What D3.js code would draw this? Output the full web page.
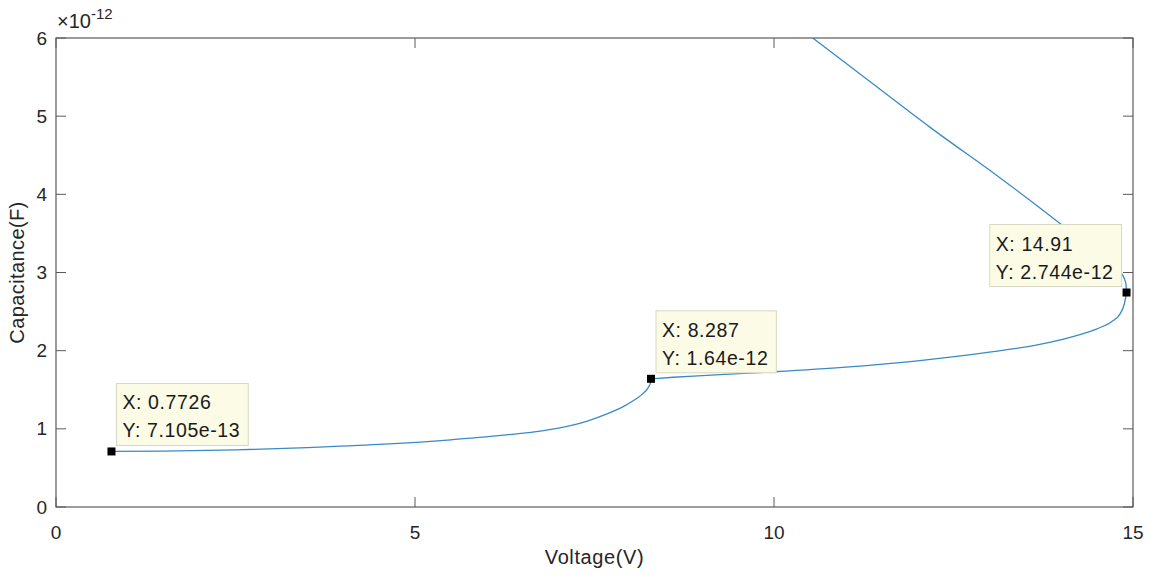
<!DOCTYPE html>
<html>
<head>
<meta charset="utf-8">
<script src="https://cdn.jsdelivr.net/npm/d3@7"></script>
<style>
  body { margin: 0; background: #fff; }
  svg { display: block; font-family: "Liberation Sans", Arial, sans-serif; }
</style>
</head>
<body>
<svg id="chart" width="1151" height="575"></svg>
<script>
// C-V sweep (x in V, y in pF)
var lowerV = [0.7726, 1.5, 2.5, 3.5, 4.5, 5.5, 6.3, 7.0, 7.4, 7.7, 7.9, 8.05, 8.17, 8.25, 8.28, 8.287];
var lowerC = [0.7105, 0.715, 0.73, 0.76, 0.80, 0.86, 0.925, 1.01, 1.1, 1.2, 1.285, 1.365, 1.447, 1.53, 1.59, 1.64];
var midV = [8.287, 8.6, 9.0, 10.0, 11.0, 12.0, 13.0, 13.7, 14.2, 14.5, 14.7, 14.82, 14.88, 14.91];
var midC = [1.64, 1.66, 1.68, 1.73, 1.79, 1.87, 1.98, 2.08, 2.19, 2.28, 2.37, 2.47, 2.6, 2.744];
var upperV = [14.91, 14.9, 14.86, 14.76, 14.56, 14.3, 14.05, 13.6, 13.15, 12.17, 11.34, 10.54];
var upperC = [2.744, 2.86, 2.96, 3.07, 3.22, 3.4, 3.58, 3.9, 4.21, 4.86, 5.44, 6.0];

// data tips
var tipX = [0.7726, 8.287, 14.91];
var tipY = [0.7105, 1.64, 2.744];
var tipLines = [["X: 0.7726", "Y: 7.105e-13"], ["X: 8.287", "Y: 1.64e-12"], ["X: 14.91", "Y: 2.744e-12"]];
var tipSide = ["right", "right", "left"];

var xTicks = [0, 5, 10, 15];
var yTicks = [0, 1, 2, 3, 4, 5, 6];

margin = {left: 56, right: 18, top: 38, bottom: 68};
width = 1151 - margin.left - margin.right;
height = 575 - margin.top - margin.bottom;

svg = d3.select("#chart");
g = svg.append("g").attr("transform", "translate(" + margin.left + "," + margin.top + ")");

x = d3.scaleLinear().domain([0, 15]).range([0, width]);
y = d3.scaleLinear().domain([0, 6]).range([height, 0]);

var axisColor = "#5a5a5a";
var textColor = "#262626";
var lineColor = "#3a8ac4";
var tickLen = 10;

g.append("clipPath").attr("id", "clip")
    .append("rect").attr("width", width).attr("height", height);

// curve: three branches, joined at the turning points
function zipPts(vs, cs) { return vs.map(function(v, i) { return [v, cs[i]]; }); }

lineX = d3.line()
    .x(function(d) { return x(d[0]); })
    .y(function(d) { return y(d[1]); })
    .curve(d3.curveMonotoneX);
lineY = d3.line()
    .x(function(d) { return x(d[0]); })
    .y(function(d) { return y(d[1]); })
    .curve(d3.curveMonotoneY);

[[zipPts(lowerV, lowerC), lineX], [zipPts(midV, midC), lineX], [zipPts(upperV, upperC), lineY]]
    .forEach(function(b) {
        g.append("path")
            .datum(b[0])
            .attr("clip-path", "url(#clip)")
            .attr("d", b[1])
            .attr("fill", "none")
            .attr("stroke", lineColor)
            .attr("stroke-width", 1.3);
    });

// box + mirrored ticks
g.append("rect").attr("width", width).attr("height", height)
    .attr("fill", "none").attr("stroke", axisColor).attr("stroke-width", 1.2);

xTicks.forEach(function(t) {
    g.append("line").attr("x1", x(t)).attr("x2", x(t)).attr("y1", height).attr("y2", height - tickLen)
        .attr("stroke", axisColor);
    g.append("line").attr("x1", x(t)).attr("x2", x(t)).attr("y1", 0).attr("y2", tickLen)
        .attr("stroke", axisColor);
    g.append("text").attr("x", x(t)).attr("y", height + 32)
        .attr("text-anchor", "middle").attr("font-size", 19).attr("fill", textColor).text(t);
});
yTicks.forEach(function(t) {
    g.append("line").attr("x1", 0).attr("x2", tickLen).attr("y1", y(t)).attr("y2", y(t))
        .attr("stroke", axisColor);
    g.append("line").attr("x1", width).attr("x2", width - tickLen).attr("y1", y(t)).attr("y2", y(t))
        .attr("stroke", axisColor);
    g.append("text").attr("x", -9).attr("y", y(t)).attr("dy", "0.35em")
        .attr("text-anchor", "end").attr("font-size", 19).attr("fill", textColor).text(t);
});

// exponent
ex = g.append("text").attr("x", 1).attr("y", -10).attr("font-size", 20).attr("fill", textColor);
ex.append("tspan").text("\u00d710");
ex.append("tspan").attr("font-size", 15).attr("dy", -9).text("-12");

// axis labels
g.append("text").attr("x", width / 2).attr("y", height + 57)
    .attr("text-anchor", "middle").attr("font-size", 20).attr("letter-spacing", 0.6)
    .attr("fill", textColor).text("Voltage(V)");
g.append("text").attr("transform", "translate(" + (-32) + "," + (height / 2) + ") rotate(-90)")
    .attr("text-anchor", "middle").attr("font-size", 20).attr("letter-spacing", 0.4)
    .attr("fill", textColor).text("Capacitance(F)");

// data tips
tipX.forEach(function(v, i) {
    var px = x(v), py = y(tipY[i]);
    var tg = g.append("g");
    var box = tg.append("rect").attr("fill", "#fbfbe6").attr("stroke", "#d8d8c4").attr("stroke-width", 1);
    var t1 = tg.append("text").attr("font-size", 19.5).attr("letter-spacing", 0.6).attr("fill", "#1a1a1a").text(tipLines[i][0]);
    var t2 = tg.append("text").attr("font-size", 19.5).attr("letter-spacing", 0.6).attr("fill", "#1a1a1a").text(tipLines[i][1]);
    var w = Math.max(t1.node().getComputedTextLength(), t2.node().getComputedTextLength()) + 14;
    var h = 62;
    var bx = tipSide[i] == "right" ? px + 5 : px - 5 - w;
    var by = py - 6 - h;
    box.attr("x", bx).attr("y", by).attr("width", w).attr("height", h);
    t1.attr("x", bx + 6).attr("y", by + 26);
    t2.attr("x", bx + 6).attr("y", by + 54);
    g.append("rect").attr("x", px - 4).attr("y", py - 4).attr("width", 8).attr("height", 8).attr("fill", "#000");
});
</script>
</body>
</html>
